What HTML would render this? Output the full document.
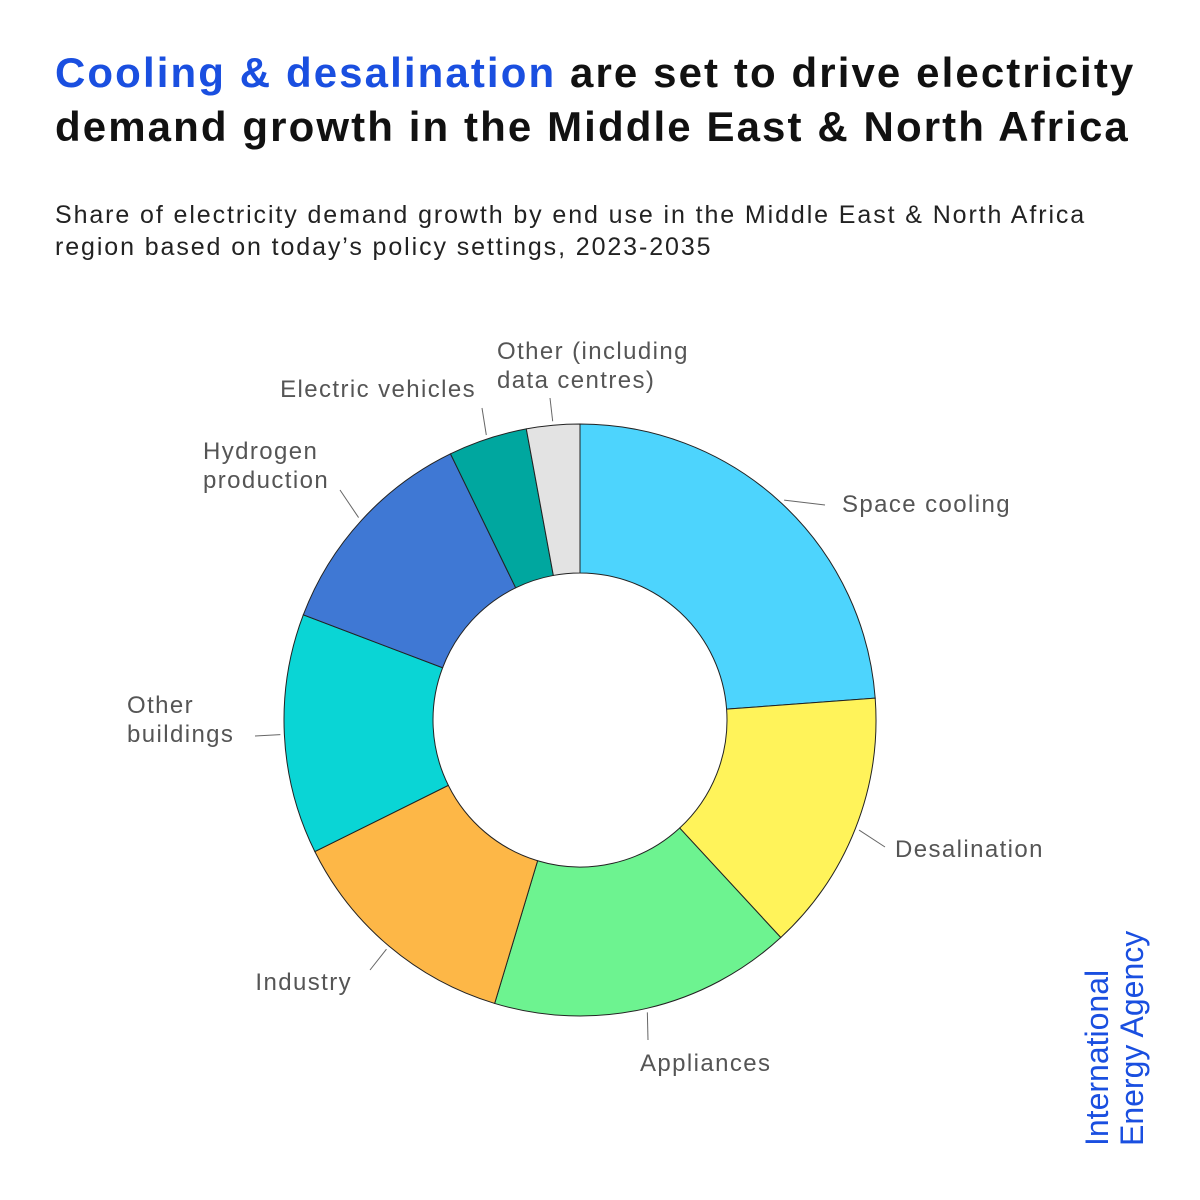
<!DOCTYPE html>
<html><head><meta charset="utf-8"><style>
body{margin:0;background:#fff;width:1200px;height:1200px;overflow:hidden;font-family:"Liberation Sans",sans-serif}
.t{position:absolute;left:55px;top:46px;font-size:42px;font-weight:bold;line-height:54px;color:#111;letter-spacing:2.1px;white-space:nowrap}
.s{position:absolute;left:55px;top:199px;font-size:25px;line-height:32px;color:#222;letter-spacing:1.9px;white-space:nowrap}
</style></head><body>
<div class="t"><span style="color:#1a4fe0">Cooling &amp; desalination</span> are set to drive electricity<br>demand growth in the Middle East &amp; North Africa</div>
<div class="s">Share of electricity demand growth by end use in the Middle East &amp; North Africa<br>region based on today’s policy settings, 2023-2035</div>
<svg id="c" width="1200" height="1200" style="position:absolute;left:0;top:0">
<g id="g"></g>
<text transform="translate(1108,1146) rotate(-90)" font-size="32" fill="#1a4fe0" font-family="Liberation Sans, sans-serif">International</text>
<text transform="translate(1143,1146) rotate(-90)" font-size="32" fill="#1a4fe0" font-family="Liberation Sans, sans-serif">Energy Agency</text>
</svg>
<script>
const categories=["Space cooling","Desalination","Appliances","Industry","Other buildings","Hydrogen production","Electric vehicles","Other (including data centres)"];
const values=[23.8,14.3,16.5,13.0,13.1,12.0,4.3,2.9];
const colors=["#4dd4fd","#fff35a","#6df390","#fdb747","#0ad5d5","#3f78d4","#00a79f","#e3e3e3"];
const labelLines=[["Space cooling"],["Desalination"],["Appliances"],["Industry"],["Other","buildings"],["Hydrogen","production"],["Electric vehicles"],["Other (including","data centres)"]];
const labelPos=[[842,512,"start"],[895,857,"start"],[640,1071,"start"],[352,990,"end"],[127,713,"start"],[203,459,"start"],[476,397,"end"],[497,359,"start"]];
const lineEnd=[[825,505],[885,847],[648,1040],[370,970],[255,736],[340,490],[482,408],[550,398]];
const cx=580,cy=720,R=296,r=147;
const g=document.getElementById('g'),ns="http://www.w3.org/2000/svg";
const total=values.reduce((a,b)=>a+b,0);
function pt(a,rad){return [cx+rad*Math.sin(a),cy-rad*Math.cos(a)];}
let acc=0;
values.forEach((v,i)=>{
 const a0=acc/total*2*Math.PI;acc+=v;const a1=acc/total*2*Math.PI;
 const large=(a1-a0)>Math.PI?1:0;
 const p0=pt(a0,R),p1=pt(a1,R),q1=pt(a1,r),q0=pt(a0,r);
 const p=document.createElementNS(ns,'path');
 p.setAttribute('d',`M${p0}A${R},${R} 0 ${large} 1 ${p1}L${q1}A${r},${r} 0 ${large} 0 ${q0}Z`);
 p.setAttribute('fill',colors[i]);p.setAttribute('stroke','#222');p.setAttribute('stroke-width','1');
 
 
 g.appendChild(p);
 const am=(a0+a1)/2,s=pt(am,R+4);
 const l=document.createElementNS(ns,'line');
 l.setAttribute('x1',s[0]);l.setAttribute('y1',s[1]);l.setAttribute('x2',lineEnd[i][0]);l.setAttribute('y2',lineEnd[i][1]);
 l.setAttribute('stroke','#666');l.setAttribute('stroke-width','1');
 
 
 g.appendChild(l);
 const t=document.createElementNS(ns,'text');
 t.setAttribute('x',labelPos[i][0]);t.setAttribute('y',labelPos[i][1]);t.setAttribute('text-anchor',labelPos[i][2]);
 t.setAttribute('font-size','24');t.setAttribute('fill','#555');t.setAttribute('font-family','Liberation Sans, sans-serif');
 t.setAttribute('letter-spacing','1.4');
 labelLines[i].forEach((ln,k)=>{const ts=document.createElementNS(ns,'tspan');ts.setAttribute('x',labelPos[i][0]);ts.setAttribute('dy',k?29:0);ts.textContent=ln;t.appendChild(ts);});
 
 
 g.appendChild(t);
});
</script>
</body></html>
